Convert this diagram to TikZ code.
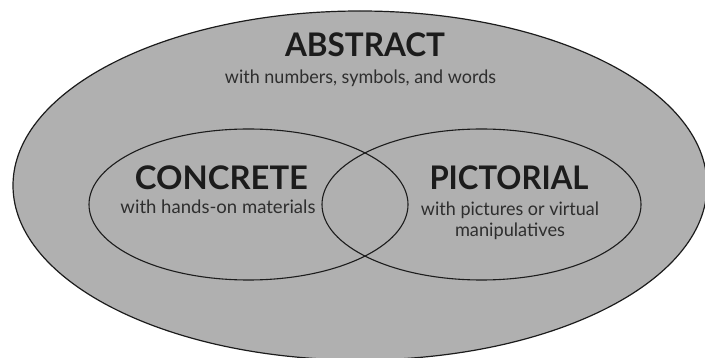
\documentclass[tikz,border=0pt]{standalone}
\usepackage{fontspec}
\setmainfont{Lato}
\usetikzlibrary{shapes.geometric}
\definecolor{fillgray}{HTML}{B0B0B0}
\definecolor{inkdark}{HTML}{1C1C1C}
\definecolor{inksub}{HTML}{2E2E2E}
\newcommand\wfit[2]{\resizebox{#1}{\height}{#2}}
\begin{document}
\begin{tikzpicture}[x=1pt,y=-1pt,
  outerell/.style={ellipse, draw=inkdark, fill=fillgray, line width=1.2pt, inner sep=0pt, minimum width=694pt, minimum height=349pt},
  innerell/.style={ellipse, draw=inkdark, line width=1.1pt, inner sep=0pt, minimum width=319pt, minimum height=151pt},
  heading/.style={anchor=base, inner sep=0pt, text=inkdark, font=\fontsize{32.5}{36}\selectfont\bfseries},
  subtext/.style={anchor=base, inner sep=0pt, text=inksub, font=\fontsize{18.5}{21}\selectfont, align=center}]
\useasboundingbox (0,0) rectangle (705,358);
\clip (0,0) rectangle (705,358);
\fill[white] (0,0) rectangle (705,358);
\node[outerell] (abstract) at (360,185.5) {};
\node[innerell] (concrete) at (248.5,204.5) {};
\node[innerell] (pictorial) at (481.5,204.5) {};
\node[heading] (abstitle) at (365,57) {\wfit{160pt}{ABSTRACT}};
\node[subtext] (abssub) at (360.5,83.5) {\wfit{271pt}{with numbers, symbols, and words}};
\node[heading] (contitle) at (221.5,190) {\wfit{173pt}{CONCRETE}};
\node[subtext] (consub) at (218,213.5) {\wfit{195pt}{with hands-on materials}};
\node[heading] (pictitle) at (509,190) {\wfit{159pt}{PICTORIAL}};
\node[subtext] (picsub) at (510,236.5) {\wfit{178pt}{with pictures or virtual}\\\wfit{110pt}{manipulatives}};
\end{tikzpicture}
\end{document}
